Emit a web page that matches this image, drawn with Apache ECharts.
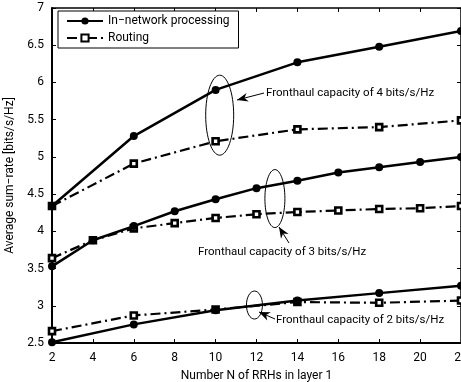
<!DOCTYPE html>
<html style="height: 100%">
<head>
    <meta charset="UTF-8">
    <title>Average sum-rate vs number of RRHs</title>
    <script src="https://cdn.jsdelivr.net/npm/echarts@6/dist/echarts.min.js"></script>
    <style>
        #main { width: 461px; height: 382px; }
    </style>
</head>
<body style="margin: 0; padding: 0; background: #fff;">
    <div id="main"></div>
    <script>
        // data
        var xAll = [2, 4, 6, 8, 10, 12, 14, 16, 18, 20, 22];
        var xSparse = [2, 6, 10, 14, 18, 22];

        var inNet4 = [4.34, 5.28, 5.90, 6.27, 6.48, 6.69];
        var route4 = [4.34, 4.91, 5.21, 5.37, 5.40, 5.49];
        var inNet3 = [3.53, 3.88, 4.07, 4.27, 4.43, 4.58, 4.68, 4.79, 4.86, 4.93, 5.00];
        var route3 = [3.64, 3.88, 4.04, 4.11, 4.18, 4.23, 4.26, 4.28, 4.30, 4.31, 4.34];
        var inNet2 = [2.51, 2.75, 2.94, 3.07, 3.17, 3.27];
        var route2 = [2.66, 2.87, 2.95, 3.05, 3.04, 3.07];

        var label4 = 'Fronthaul capacity of 4 bits/s/Hz';
        var label3 = 'Fronthaul capacity of 3 bits/s/Hz';
        var label2 = 'Fronthaul capacity of 2 bits/s/Hz';

        function pairs(xs, ys) {
            return ys.map(function (v, i) { return [xs[i], v]; });
        }

        var FONT = 'Roboto';
        var dashDot = [10, 4, 2, 4];

        function inNetSeries(data) {
            return {
                name: 'In\u2212network processing', type: 'line', data: data,
                symbol: 'circle', symbolSize: 8,
                lineStyle: { color: '#000', width: 2.5 },
                itemStyle: { color: '#000' },
                z: 3
            };
        }
        function routeSeries(data) {
            return {
                name: 'Routing', type: 'line', data: data,
                symbol: 'rect', symbolSize: 6,
                lineStyle: { color: '#000', width: 2.2, type: dashDot },
                itemStyle: { color: '#fff', borderColor: '#000', borderWidth: 2.6 },
                z: 2
            };
        }

        var chart = echarts.init(document.getElementById('main'));

        var axisLabelStyle = { color: '#000', fontFamily: FONT, fontSize: 12 };
        var option = {
            backgroundColor: '#fff',
            animation: false,
            grid: { left: 52, right: 0, top: 8, bottom: 39, outerBoundsMode: 'none', containLabel: false },
            legend: {
                data: ['In\u2212network processing', 'Routing'],
                orient: 'vertical',
                left: 58, top: 11,
                itemWidth: 36, itemHeight: 9, itemGap: 5,
                padding: [4, 9, 4, 8],
                borderColor: '#000', borderWidth: 1,
                backgroundColor: '#fff',
                textStyle: { color: '#000', fontFamily: FONT, fontSize: 12 }
            },
            xAxis: [{
                type: 'value', min: 2, max: 22, interval: 2,
                name: 'Number N of RRHs in layer 1',
                nameLocation: 'middle', nameGap: 27,
                nameTextStyle: { color: '#000', fontFamily: FONT, fontSize: 12 },
                axisLine: { lineStyle: { color: '#000', width: 2 } },
                axisTick: { inside: true, length: 4, lineStyle: { color: '#000' } },
                axisLabel: Object.assign({ margin: 9, hideOverlap: false }, axisLabelStyle),
                splitLine: { show: false }
            }, {
                type: 'value', min: 2, max: 22, interval: 2, position: 'top',
                axisLine: { show: true, lineStyle: { color: '#000', width: 1.5 } },
                axisTick: { inside: true, length: 4, lineStyle: { color: '#000' } },
                axisLabel: { show: false },
                splitLine: { show: false }
            }],
            yAxis: [{
                type: 'value', min: 2.5, max: 7, interval: 0.5,
                name: 'Average sum\u2212rate [bits/s/Hz]',
                nameLocation: 'middle', nameGap: 32,
                nameTextStyle: { color: '#000', fontFamily: FONT, fontSize: 12 },
                axisLine: { show: true, lineStyle: { color: '#000', width: 2 } },
                axisTick: { show: true, inside: true, length: 4, lineStyle: { color: '#000' } },
                axisLabel: axisLabelStyle,
                splitLine: { show: false }
            }, {
                type: 'value', min: 2.5, max: 7, interval: 0.5, position: 'right',
                axisLine: { show: true, lineStyle: { color: '#000', width: 1.5 } },
                axisTick: { show: true, inside: true, length: 4, lineStyle: { color: '#000' } },
                axisLabel: { show: false },
                splitLine: { show: false }
            }],
            series: [
                inNetSeries(pairs(xSparse, inNet4)),
                routeSeries(pairs(xSparse, route4)),
                inNetSeries(pairs(xAll, inNet3)),
                routeSeries(pairs(xAll, route3)),
                inNetSeries(pairs(xSparse, inNet2)),
                routeSeries(pairs(xSparse, route2))
            ]
        };
        chart.setOption(option);

        // annotations: ellipse round each pair of curves, arrow and caption
        var notes = [
            { c: [10.2, 5.56], rx: 14, ry: 40, tip: [237, 100], tail: [264, 93], text: label4, tx: 266, ty: 93 },
            { c: [12.9, 4.44], rx: 10, ry: 29, tip: [279, 227], tail: [289, 243], text: label3, tx: 198, ty: 252 },
            { c: [11.9, 3.01], rx: 8, ry: 14, tip: [259, 312], tail: [275, 319], text: label2, tx: 276, ty: 320 }
        ];

        function arrowHead(tip, tail) {
            var dx = tip[0] - tail[0], dy = tip[1] - tail[1];
            var len = Math.sqrt(dx * dx + dy * dy);
            var ux = dx / len, uy = dy / len;
            var L = 11, W = 4.5;
            var bx = tip[0] - ux * L, by = tip[1] - uy * L;
            var mx = tip[0] - ux * L * 0.7, my = tip[1] - uy * L * 0.7;
            return [tip, [bx - uy * W, by + ux * W], [mx, my], [bx + uy * W, by - ux * W]];
        }

        var graphics = [];
        notes.forEach(function (n) {
            var p = chart.convertToPixel({ gridIndex: 0 }, n.c);
            graphics.push({
                type: 'ellipse', shape: { cx: p[0], cy: p[1], rx: n.rx, ry: n.ry },
                style: { fill: null, stroke: '#000', lineWidth: 1 }, z: 10
            });
            graphics.push({
                type: 'line', shape: { x1: n.tail[0], y1: n.tail[1], x2: n.tip[0], y2: n.tip[1] },
                style: { stroke: '#000', lineWidth: 1 }, z: 10
            });
            graphics.push({
                type: 'polygon', shape: { points: arrowHead(n.tip, n.tail) },
                style: { fill: '#000' }, z: 10
            });
            graphics.push({
                type: 'text', x: n.tx, y: n.ty,
                style: { text: n.text, fill: '#000', font: '11.5px ' + FONT, verticalAlign: 'middle', align: 'left' },
                z: 10
            });
        });
        chart.setOption({ graphic: graphics });
    </script>
</body>
</html>
